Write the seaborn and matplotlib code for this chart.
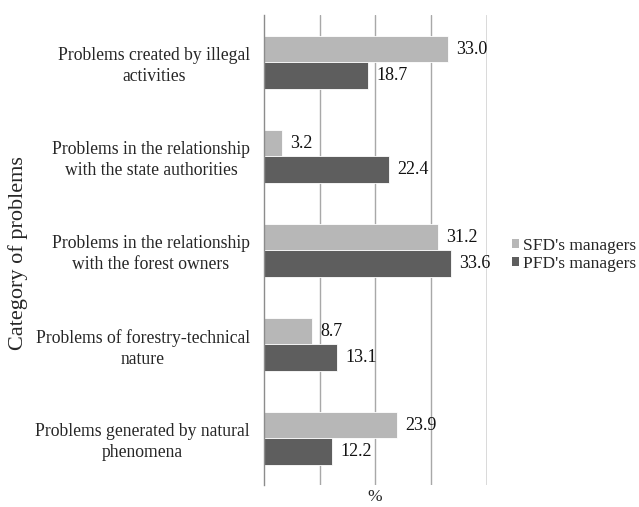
import matplotlib
matplotlib.use("Agg")
import matplotlib.pyplot as plt
import seaborn as sns
import pandas as pd
from matplotlib.patches import Patch

categories = [
    "Problems created by illegal\nactivities",
    "Problems in the relationship\nwith the state authorities",
    "Problems in the relationship\nwith the forest owners",
    "Problems of forestry-technical\nnature",
    "Problems generated by natural\nphenomena",
]
series = ["SFD's managers", "PFD's managers"]
sfd = [33.0, 3.2, 31.2, 8.7, 23.9]
pfd = [18.7, 22.4, 33.6, 13.1, 12.2]
colors = ["#B7B7B7", "#5E5E5E"]

df = pd.DataFrame({
    "Category": categories * 2,
    "Series": [series[0]] * len(categories) + [series[1]] * len(categories),
    "Value": sfd + pfd,
})

sns.set_theme(style="white")
plt.rcParams["font.family"] = ["Liberation Serif", "DejaVu Serif"]

fig = plt.figure(figsize=(6.39, 5.07), dpi=100)
ax = fig.add_axes([0.413, 0.043, 0.349, 0.927])

sns.barplot(data=df, y="Category", x="Value", hue="Series", order=categories,
            hue_order=series, palette=colors, orient="h", width=0.56,
            ax=ax, legend=False, edgecolor="white", linewidth=0.6)

for cont in ax.containers:
    ax.bar_label(cont, fmt="%.1f", padding=6, fontsize=13, color="#111111")

ax.set_xlim(0, 40)
ax.set_ylim(4.5, -0.5)
for v in [10, 20, 30]:
    ax.axvline(v, color="#A8A8A8", lw=1.0, zorder=0)
ax.axvline(40, color="#D6D6D6", lw=2.0, zorder=0)

for s in ["top", "right", "bottom"]:
    ax.spines[s].set_visible(False)
ax.spines["left"].set_color("#8C8C8C")
ax.spines["left"].set_linewidth(1.0)

ax.set_xticks([])
ax.set_yticks(range(len(categories)))
ax.set_yticklabels(categories, fontsize=12.7, multialignment="center", linespacing=1.3)
ax.tick_params(axis="y", which="major", length=0, pad=10)
ax.set_yticks([i - 0.5 for i in range(len(categories) + 1)], minor=True)
ax.tick_params(axis="y", which="minor", length=4, width=1, color="#8C8C8C", direction="out")

ax.set_xlabel("")
ax.set_ylabel("")
fig.text(0.587, 0.019, "%", ha="center", va="center", fontsize=12.5)
fig.text(0.028, 0.50, "Category of problems", rotation=90, ha="center", va="center", fontsize=16)

handles = [Patch(facecolor=c, edgecolor="none") for c in colors]
fig.legend(handles, series, loc="center left", bbox_to_anchor=(0.801, 0.497), frameon=False,
           fontsize=12.5, handlelength=0.4, handleheight=0.4, handletextpad=0.25,
           labelspacing=0.12, borderaxespad=0, borderpad=0)

fig.savefig("out.png", dpi=100)
